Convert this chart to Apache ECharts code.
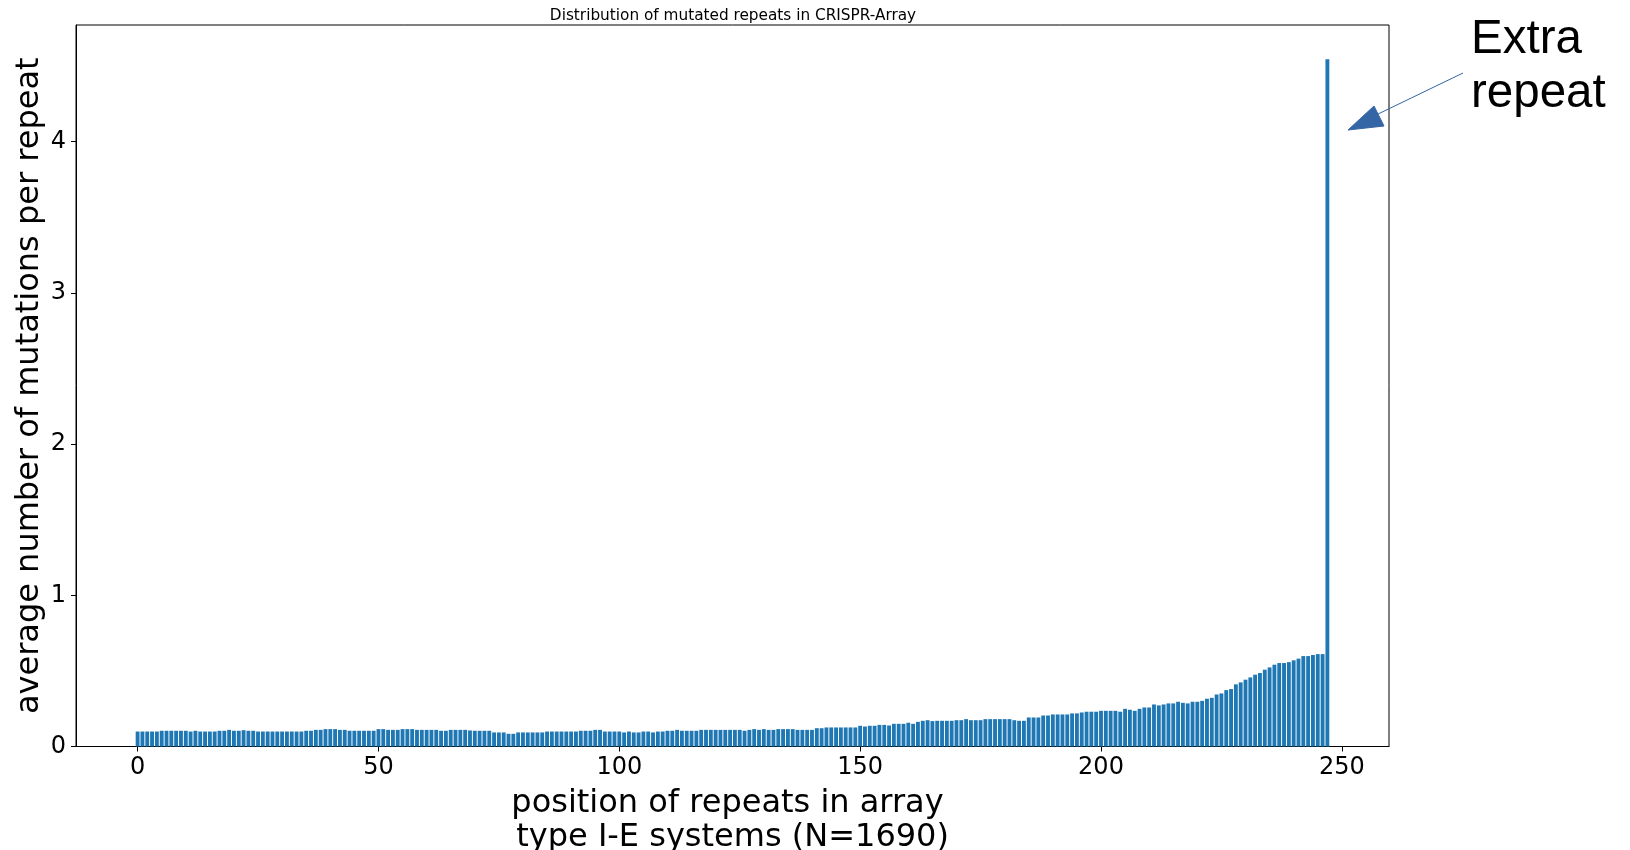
<!DOCTYPE html>
<html>
<head>
<meta charset="utf-8">
<script src="https://cdn.jsdelivr.net/npm/echarts@6/dist/echarts.min.js"></script>
<style>
html,body{margin:0;padding:0;background:#fff;}
#chart{width:1630px;height:850px;}
</style>
</head>
<body>
<div id="chart"></div>
<script>
// average number of mutations per repeat, position 0..247
const mutationValues = [
  0.099,0.099,0.099,0.099,0.099,0.104,0.104,0.104,0.104,0.104,
  0.104,0.099,0.104,0.099,0.099,0.099,0.099,0.104,0.104,0.110,
  0.104,0.104,0.108,0.104,0.104,0.099,0.099,0.099,0.099,0.099,
  0.099,0.099,0.099,0.099,0.099,0.104,0.104,0.110,0.110,0.115,
  0.115,0.115,0.110,0.110,0.104,0.104,0.104,0.104,0.104,0.104,
  0.115,0.115,0.110,0.110,0.110,0.115,0.115,0.115,0.110,0.110,
  0.110,0.110,0.110,0.104,0.104,0.110,0.110,0.110,0.110,0.106,
  0.104,0.104,0.104,0.104,0.093,0.093,0.093,0.084,0.084,0.093,
  0.093,0.093,0.093,0.093,0.093,0.099,0.099,0.099,0.099,0.099,
  0.099,0.099,0.104,0.104,0.104,0.110,0.110,0.099,0.099,0.099,
  0.099,0.093,0.099,0.093,0.093,0.099,0.099,0.093,0.099,0.099,
  0.104,0.104,0.110,0.104,0.104,0.104,0.104,0.110,0.110,0.110,
  0.110,0.110,0.110,0.110,0.110,0.110,0.104,0.110,0.115,0.110,
  0.115,0.110,0.110,0.115,0.115,0.115,0.115,0.110,0.110,0.110,
  0.110,0.121,0.121,0.126,0.126,0.126,0.126,0.126,0.126,0.126,
  0.137,0.132,0.137,0.137,0.143,0.143,0.139,0.150,0.150,0.150,
  0.157,0.150,0.163,0.170,0.174,0.168,0.170,0.170,0.170,0.170,
  0.174,0.174,0.181,0.174,0.174,0.174,0.181,0.181,0.181,0.181,
  0.181,0.181,0.174,0.170,0.170,0.192,0.192,0.192,0.205,0.205,
  0.212,0.212,0.212,0.212,0.219,0.219,0.225,0.230,0.230,0.230,
  0.236,0.236,0.236,0.236,0.230,0.249,0.243,0.236,0.249,0.258,
  0.258,0.278,0.272,0.278,0.285,0.285,0.296,0.289,0.285,0.296,
  0.296,0.302,0.316,0.322,0.344,0.351,0.373,0.380,0.411,0.424,
  0.442,0.457,0.475,0.486,0.508,0.523,0.541,0.552,0.552,0.558,
  0.570,0.581,0.598,0.598,0.605,0.611,0.611,4.545
];
// positions of repeats in array (categories)
const positions = mutationValues.map((v, i) => i);
const xTickValues = [0, 50, 100, 150, 200, 250];
const yTickValues = [0, 1, 2, 3, 4];

const titleText = 'Distribution of mutated repeats in CRISPR-Array';
const xAxisTitle = 'position of repeats in array\n type I-E systems (N=1690)';
const yAxisTitle = 'average number of mutations per repeat';
const annotationText = 'Extra\nrepeat';

const FONT = 'DejaVu Sans';
const chart = echarts.init(document.getElementById('chart'), null, {renderer: 'canvas'});

const seriesData = positions.map((p, i) => [p, mutationValues[i]]);

const option = {
  backgroundColor: '#ffffff',
  animation: false,
  title: {
    text: titleText,
    left: 728, top: 4, textAlign: 'center',
    textStyle: {fontFamily: FONT, fontSize: 15.3, fontWeight: 'normal', color: '#000'}
  },
  grid: {
    left: 76, top: 25, width: 1313, height: 721.5,
    show: true, borderColor: '#000', borderWidth: 1, backgroundColor: 'transparent',
    containLabel: false,
    outerBoundsMode: 'none'
  },
  xAxis: {
    type: 'value',
    min: -12.79, max: 259.79,
    axisLine: {show: true, onZero: false, lineStyle: {color: '#000', width: 1}},
    axisTick: {show: true, length: 5, inside: false, customValues: xTickValues, lineStyle: {color: '#000'}},
    axisLabel: {customValues: xTickValues, fontFamily: FONT, fontSize: 24, color: '#000', margin: 9},
    splitLine: {show: false},
    name: xAxisTitle,
    nameLocation: 'middle',
    nameGap: 40,
    nameMoveOverlap: false,
    nameTextStyle: {fontFamily: FONT, fontSize: 32, color: '#000', lineHeight: 34, padding: [0, 10, 0, 0]}
  },
  yAxis: {
    type: 'value',
    min: 0, max: 4.772,
    axisLine: {show: true, onZero: false, lineStyle: {color: '#000', width: 1}},
    axisTick: {show: true, length: 5, customValues: yTickValues, lineStyle: {color: '#000'}},
    axisLabel: {customValues: yTickValues, fontFamily: FONT, fontSize: 24, color: '#000', margin: 10},
    splitLine: {show: false},
    name: yAxisTitle,
    nameLocation: 'middle',
    nameRotate: 90,
    nameGap: 30,
    nameMoveOverlap: false,
    nameTextStyle: {fontFamily: FONT, fontSize: 32, color: '#000'}
  },
  series: [{
    type: 'bar',
    data: seriesData,
    barWidth: 3.86,
    itemStyle: {color: '#1f77b4'},
    silent: true
  }],
  graphic: [
    {
      type: 'line',
      shape: {x1: 1463, y1: 73, x2: 1376, y2: 115},
      style: {stroke: '#3465a4', lineWidth: 1}
    },
    {
      type: 'polygon',
      shape: {points: [[1348, 130], [1374, 106], [1384, 126]]},
      style: {fill: '#3465a4', stroke: '#3465a4', lineWidth: 1}
    },
    {
      type: 'text',
      left: 1471, top: 13,
      style: {
        text: annotationText,
        font: '47.5px "Liberation Sans"',
        lineHeight: 54,
        fill: '#000'
      }
    }
  ]
};
chart.setOption(option);
</script>
</body>
</html>
